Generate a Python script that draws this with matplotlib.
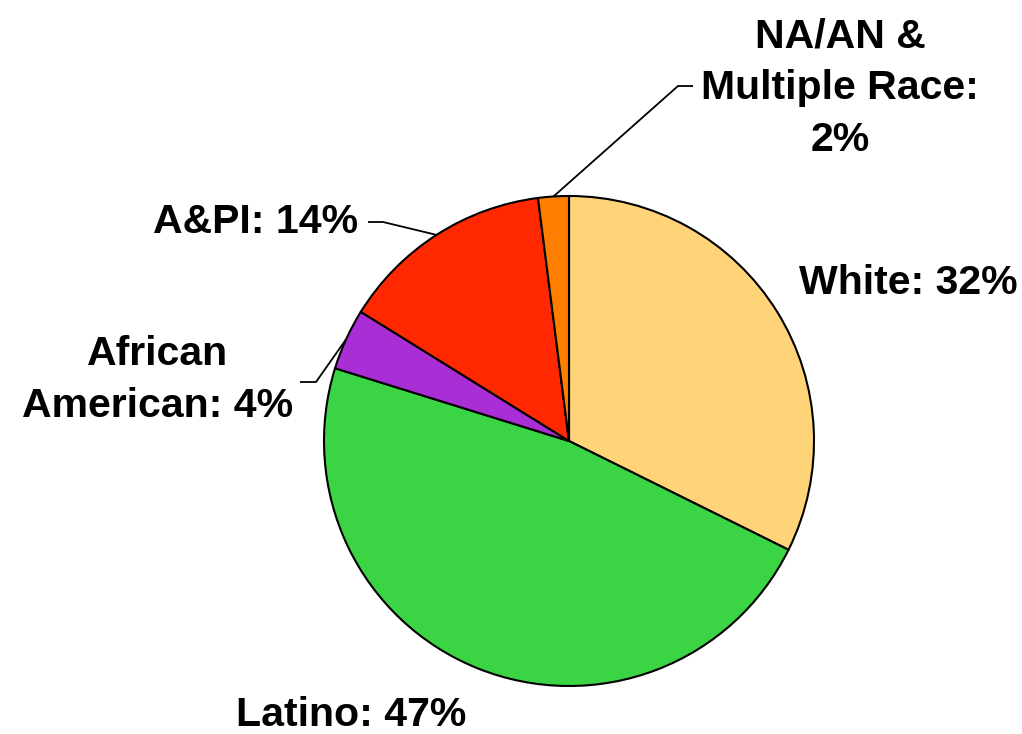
import numpy as np
import matplotlib
matplotlib.use('Agg')
import matplotlib.pyplot as plt

# Data (clockwise from the top)
categories = ['White', 'Latino', 'African\nAmerican', 'A&PI', 'NA/AN &\nMultiple Race']
shares = [32, 47, 4, 14, 2]
colors = ['#FFD479', '#3AD444', '#AA2ED6', '#FF2800', '#FF7E00']

plt.rcParams['font.family'] = ['Liberation Sans', 'DejaVu Sans']

fig = plt.figure(figsize=(10.22, 7.34), dpi=100)
ax = fig.add_axes([0, 0, 1, 1])

# pie in pixel-like coordinates (y up)
cx, cy, r = 569, 734 - 441, 245
wedges, _ = ax.pie(shares, colors=colors, startangle=90, counterclock=False,
                   center=(cx, cy), radius=r,
                   wedgeprops=dict(edgecolor='black', linewidth=1.5))
ax.set_xlim(0, 1022)
ax.set_ylim(0, 734)
ax.set_aspect('equal')
ax.axis('off')

fs = 29.5
label_style = dict(fontsize=fs, fontweight='bold', ha='center', va='center',
                   linespacing=1.46)

# label anchor position, leader elbow + end (None = no leader)
positions = [(908, 283), (351, 715), (158, 380), (256, 222), (840, 88)]
leaders = [None, None,
           [(316, 382), (300, 382)],
           [(383, 222), (368, 222)],
           [(678, 86), (693, 86)]]
sep = [': ', ': ', ': ', ': ', ':\n']

for w, cat, s, sp, (tx, ty), leader in zip(wedges, categories, shares, sep,
                                           positions, leaders):
    ax.text(tx, 734 - ty, f'{cat}{sp}{s}%', **label_style)
    if leader is not None:
        mid = np.deg2rad((w.theta1 + w.theta2) / 2)
        px, py = cx + r * np.cos(mid), cy + r * np.sin(mid)
        xs = [px] + [p[0] for p in leader]
        ys = [py] + [734 - p[1] for p in leader]
        ax.plot(xs, ys, color='black', linewidth=1.3, solid_capstyle='butt')

fig.savefig('out.png', dpi=100)
